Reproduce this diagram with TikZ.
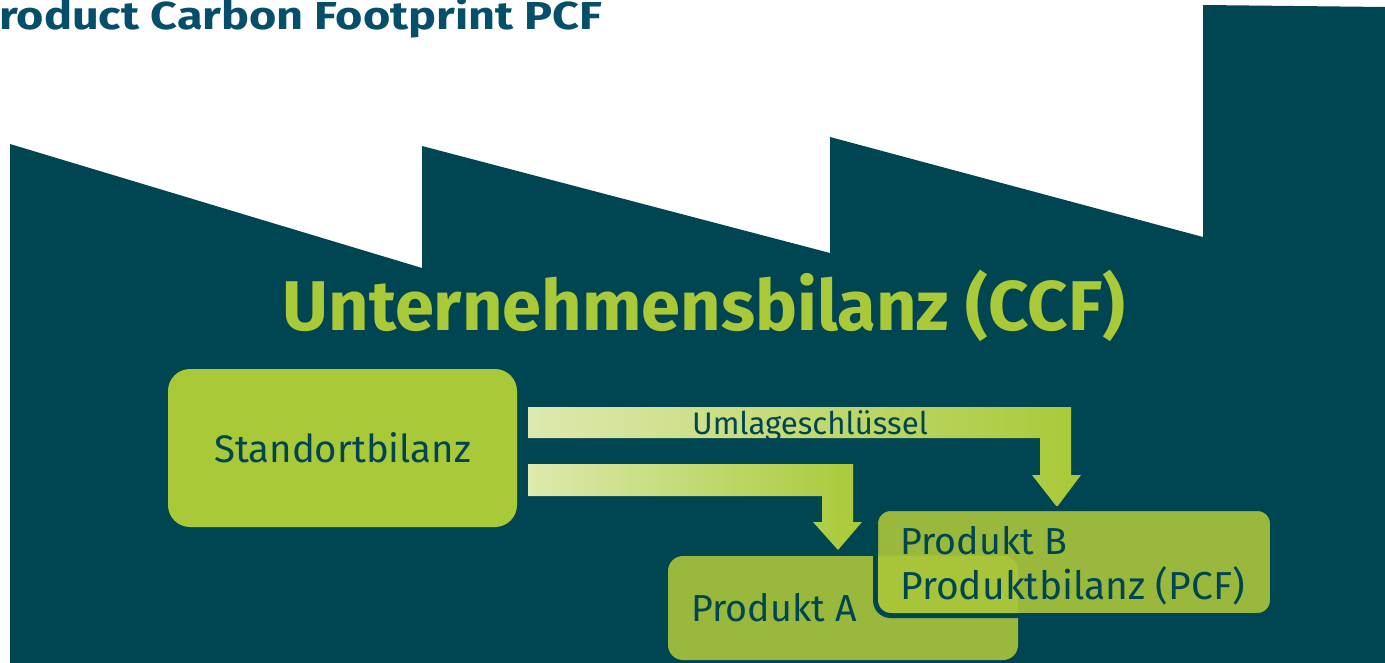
\documentclass[tikz,border=0pt]{standalone}
\usepackage{fontspec}
\setmainfont{Fira Sans}
\usepackage{tikz}
\usetikzlibrary{positioning}

\definecolor{factory}{HTML}{004652}
\definecolor{titleblue}{HTML}{064F6A}
\definecolor{lime}{HTML}{A9C938}
\definecolor{palelime}{HTML}{DDE9AE}
\definecolor{prodgreen}{HTML}{99B83C}
\definecolor{overlap}{HTML}{A8C53A}

\begin{document}
\begin{tikzpicture}[x=0.5pt,y=-0.5pt,
                    box node/.style={rectangle,rounded corners=11pt,inner sep=0pt},
                    label node/.style={inner sep=0pt,text=factory},
                    block arrow/.style={left color=palelime,right color=lime,shading angle=90}]
  \useasboundingbox (0,0) rectangle (1385,663);

  % factory outline
  \fill[factory] (10,144) -- (422,268) -- (422,146) -- (830,253) -- (830,137)
    -- (1203,237) -- (1203,5) -- (1385,7) -- (1385,663) -- (10,663) -- cycle;

  \node[inner sep=0pt,anchor=base west,text=titleblue,
        font=\fontsize{19.5}{22}\selectfont\bfseries\addfontfeature{FakeStretch=1.2}]
    (title) at (-1,30) {roduct Carbon Footprint PCF};
  \node[inner sep=0pt,anchor=base,text=lime,font=\fontsize{35.2}{40}\selectfont\bfseries]
    (ccf) at (704,330) {Unternehmensbilanz (CCF)};

  % Standortbilanz
  \node[box node,fill=lime,minimum width=174.5pt,minimum height=79pt,
        text=factory,font=\fontsize{19.2}{22}\selectfont] (std) at (342.5,448) {Standortbilanz};

  % Umlage arrows
  \shade[block arrow] (528,407) -- (1071,407) -- (1071,475) -- (1081,475) -- (1057,507)
    -- (1032,475) -- (1040,475) -- (1040,438) -- (528,438) -- cycle;
  \shade[block arrow] (528,464) -- (853,464) -- (853,522) -- (862,522) -- (838,550)
    -- (813,522) -- (822,522) -- (822,496) -- (528,496) -- cycle;
  \node[label node,anchor=base,font=\fontsize{15.6}{18}\selectfont] (key) at (810,434) {Umlageschlüssel};

  % products
  \node[box node,rounded corners=7.5pt,fill=prodgreen,minimum width=175pt,minimum height=52pt]
    (prodA) at (843,608) {};
  \node[box node,rounded corners=7.5pt,fill=prodgreen,draw=factory,line width=2.5pt,
        minimum width=198.5pt,minimum height=53.5pt] (prodB) at (1074,562) {};
  \begin{scope}
    \clip[rounded corners=7.5pt] (prodA.south west) rectangle (prodA.north east);
    \fill[overlap,rounded corners=7.5pt] (878,511) rectangle (1270,613);
  \end{scope}

  \node[label node,anchor=base west,font=\fontsize{18.8}{20}\selectfont] (labA) at (691,621) {Produkt A};
  \node[label node,anchor=base west,font=\fontsize{18.8}{20}\selectfont] (labB) at (900,554) {Produkt B};
  \node[label node,anchor=base west,font=\fontsize{19.5}{22}\selectfont] (pcf) at (900,599) {Produktbilanz (PCF)};
\end{tikzpicture}
\end{document}
